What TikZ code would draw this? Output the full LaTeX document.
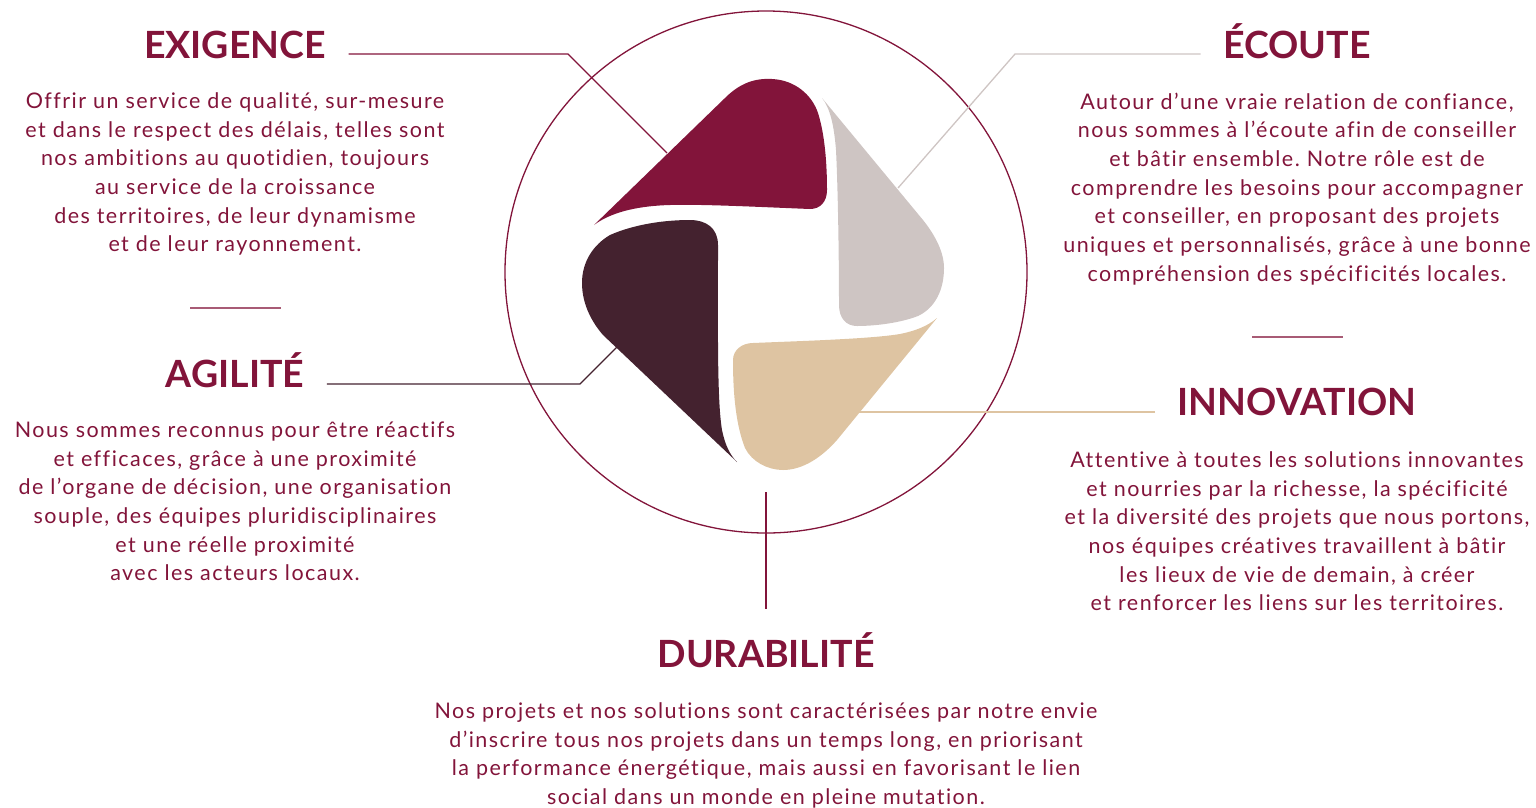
\documentclass[tikz,border=0pt]{standalone}
\usepackage{fontspec}
\setmainfont{Lato}
\newfontfamily\bodyfont{Lato}[LetterSpace=6.8,Ligatures=NoCommon]
\frenchspacing
\definecolor{bordeaux}{HTML}{82143A}
\definecolor{plum}{HTML}{44222F}
\definecolor{stone}{HTML}{CEC5C3}
\definecolor{sand}{HTML}{DEC4A2}
\tikzset{every path/.style={bordeaux,line width=1.3pt},
  head/.style={font=\fontsize{37.5}{40}\selectfont\bfseries,text=bordeaux,inner xsep=22pt,inner ysep=0pt,anchor=base},
  body/.style={font=\bodyfont\fontsize{21.5}{28.7}\selectfont,text=bordeaux,align=center,inner sep=0pt,anchor=north},
  lead/.style={line width=1.3pt},
  sepline/.style={bordeaux!70,line width=1.5pt}}

\begin{document}
\begin{tikzpicture}[x=1pt,y=-1pt]
     \useasboundingbox (0,0) rectangle (1536,807);
     \begin{scope}
      \fill[bordeaux] (594,225) -- (725,98) .. controls (740,83) and (755,78) .. (772,79)
        .. controls (795,80) and (812,95) .. (818,113) .. controls (825,135) and (827,165) .. (827,190)
        .. controls (827,202) and (820,209) .. (810,209) .. controls (760,207) and (700,204) .. (670,205)
        .. controls (635,206) and (610,213) .. (594,225) -- cycle;
      \fill[stone] (822,98) -- (923,220) .. controls (935,235) and (944,252) .. (944,268)
        .. controls (944,290) and (935,308) .. (918,316) .. controls (900,323) and (875,326) .. (857,326)
        .. controls (846,326) and (839,318) .. (839,305) .. controls (839,260) and (838,190) .. (836,150)
        .. controls (834,125) and (830,108) .. (822,98) -- cycle;
      \fill[sand] (937,318) -- (837,440) .. controls (822,457) and (803,470) .. (783,470)
        .. controls (768,470) and (752,462) .. (745,448) .. controls (736,425) and (733,395) .. (733,360)
        .. controls (733,350) and (742,343) .. (753,343) .. controls (800,341) and (870,339) .. (900,334)
        .. controls (915,331) and (928,326) .. (937,318) -- cycle;
      \fill[plum] (737,462) -- (603,335) .. controls (590,320) and (582,302) .. (582,283)
        .. controls (582,262) and (593,245) .. (610,235) .. controls (635,224) and (665,220) .. (690,220)
        .. controls (706,220) and (718,228) .. (718,245) .. controls (718,330) and (717,400) .. (722,430)
        .. controls (725,445) and (730,455) .. (737,462) -- cycle;
      \coordinate (ctr) at (766,272);
      \draw (ctr) circle[radius=261pt];
     \end{scope}
     \node[head] (exig) at (235,58) {EXIGENCE};
     \node[head] (ecou) at (1297,58) {ÉCOUTE};
     \node[head] (agil) at (235,387) {AGILITÉ};
     \node[head] (inno) at (1297,415) {INNOVATION};
     \node[head] (dura) at (766,667) {DURABILITÉ};
     \node[body] (exig-txt) at (235,92) {Offrir un service de qualité, sur-mesure\\
       et dans le respect des délais, telles sont\\
       nos ambitions au quotidien, toujours\\
       au service de la croissance\\
       des territoires, de leur dynamisme\\
       et de leur rayonnement.};
     \node[body] (ecou-txt) at (1297,92) {Autour d’une vraie relation de confiance,\\
       nous sommes à l’écoute afin de conseiller\\
       et bâtir ensemble. Notre rôle est de\\
       comprendre les besoins pour accompagner\\
       et conseiller, en proposant des projets\\
       uniques et personnalisés, grâce à une bonne\\
       compréhension des spécificités locales.};
     \node[body] (agil-txt) at (235,421) {Nous sommes reconnus pour être réactifs\\
       et efficaces, grâce à une proximité\\
       de l’organe de décision, une organisation\\
       souple, des équipes pluridisciplinaires\\
       et une réelle proximité\\
       avec les acteurs locaux.};
     \node[body] (inno-txt) at (1297,451) {Attentive à toutes les solutions innovantes\\
       et nourries par la richesse, la spécificité\\
       et la diversité des projets que nous portons,\\
       nos équipes créatives travaillent à bâtir\\
       les lieux de vie de demain, à créer\\
       et renforcer les liens sur les territoires.};
     \node[body] (dura-txt) at (766,702) {Nos projets et nos solutions sont caractérisées par notre envie\\
       d’inscrire tous nos projets dans un temps long, en priorisant\\
       la performance énergétique, mais aussi en favorisant le lien\\
       social dans un monde en pleine mutation.};
     \coordinate (exig-k) at (568,54);
     \coordinate (exig-e) at (667,153);
     \coordinate (ecou-k) at (1015,54);
     \coordinate (ecou-e) at (898,188);
     \coordinate (agil-k) at (580,384);
     \coordinate (agil-e) at (617,347);
     \coordinate (inno-e) at (857,412);
     \coordinate (dura-s) at (766,492);
     \draw[lead] (exig.east |- exig-k) -- (exig-k) -- (exig-e);
     \draw[lead,stone] (ecou.west |- ecou-k) -- (ecou-k) -- (ecou-e);
     \draw[lead,plum] (agil.east |- agil-k) -- (agil-k) -- (agil-e);
     \draw[lead,sand] (inno.west |- inno-e) -- (inno-e);
     \draw[lead,shorten >=22pt] (dura-s) -- (dura.north);
     \draw[sepline] (190,308) -- (281,308);
     \draw[sepline] (1252,337) -- (1343,337);
    \end{tikzpicture}
\end{document}
